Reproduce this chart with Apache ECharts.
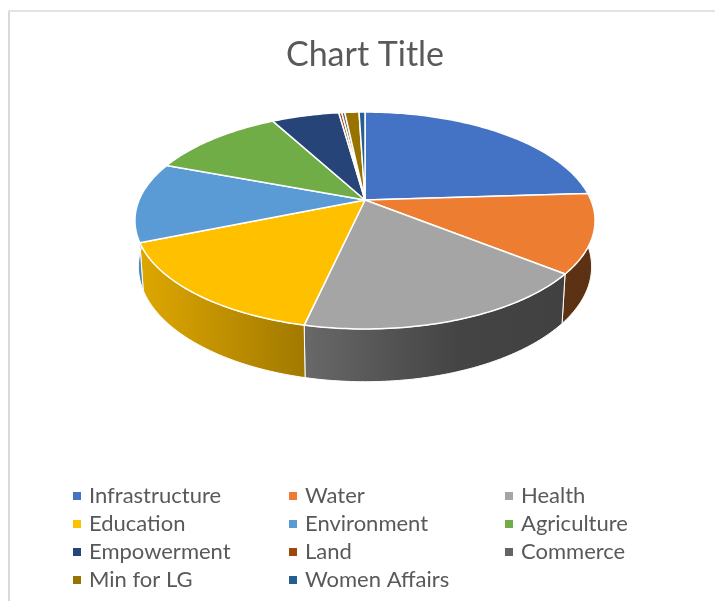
<!DOCTYPE html>
<html>
<head>
<meta charset="utf-8">
<title>Chart Title</title>
<style>
  html, body { margin: 0; padding: 0; background: #fff; overflow: hidden; }
  #main { width: 715px; height: 601px; }
</style>
<script src="https://cdn.jsdelivr.net/npm/echarts@6/dist/echarts.min.js"></script>
</head>
<body>
<div id="main"></div>
<script>
var categories = ['Infrastructure', 'Water', 'Health', 'Education', 'Environment', 'Agriculture',
  'Empowerment', 'Land', 'Commerce', 'Min for LG', 'Women Affairs'];
var values = [24, 11.75, 17.8, 15.3, 11.9, 11.4, 5.7, 0.25, 0.25, 1.2, 0.5];
var colors = ['#4472C4', '#ED7D31', '#A5A5A5', '#FFC000', '#5B9BD5', '#70AD47',
  '#264478', '#9E480E', '#636363', '#997300', '#255E91'];
var legendColumns = [
  ['Infrastructure', 'Education', 'Empowerment', 'Min for LG'],
  ['Water', 'Environment', 'Land', 'Women Affairs'],
  ['Health', 'Agriculture', 'Commerce']
];

// fake 3D: the pie circle is pushed through a perspective map
var apex = { x: 365, y: 200 };
var persp = 0.189, radX = 225.9, radY = 104.6;
var rimDepth = 45, lowScaleX = 0.985, lowScaleY = 1.06;

var total = values.reduce(function (a, b) { return a + b; }, 0);

function rimPoint(deg, lower) {
  var t = deg * Math.PI / 180;
  var x = Math.sin(t), y = -Math.cos(t);
  var w = 1 - persp * y;
  var dx = radX * x / w, dy = radY * y / w;
  if (lower) return [apex.x + lowScaleX * dx, apex.y + rimDepth + lowScaleY * dy];
  return [apex.x + dx, apex.y + dy];
}

function arc(from, to, lower) {
  var pts = [];
  var n = Math.max(1, Math.ceil(Math.abs(to - from)));
  for (var i = 0; i <= n; i++) pts.push(rimPoint(from + (to - from) * i / n, lower));
  return pts;
}

function shade(hex, f) {
  var c = echarts.color.parse(hex);
  return 'rgb(' + Math.round(c[0] * f) + ',' + Math.round(c[1] * f) + ',' + Math.round(c[2] * f) + ')';
}

// side wall darkens from left to right across the whole pie
function sideFill(hex) {
  return new echarts.graphic.LinearGradient(140, 0, 600, 0, [
    { offset: 0, color: shade(hex, 0.87) },
    { offset: 0.36, color: shade(hex, 0.63) },
    { offset: 0.565, color: shade(hex, 0.49) },
    { offset: 0.695, color: shade(hex, 0.41) },
    { offset: 1, color: shade(hex, 0.39) }
  ], true);
}

function sliceRenderer(index) {
  return function (params, api) {
    var before = 0;
    for (var i = 0; i < index; i++) before += values[i];
    var start = before / total * 360;
    var end = (before + api.value(0)) / total * 360;
    var color = api.visual('color');
    var children = [];

    // only the front of the rim can be seen
    var a = Math.max(start, 70), b = Math.min(end, 290);
    if (b > a) {
      children.push({
        type: 'polygon',
        z2: 1,
        shape: { points: arc(a, b, false).concat(arc(b, a, true)) },
        style: { fill: sideFill(color), stroke: '#fff', lineWidth: 1, lineJoin: 'round' }
      });
    }
    children.push({
      type: 'polygon',
      z2: 5,
      shape: { points: [[apex.x, apex.y]].concat(arc(start, end, false)) },
      style: { fill: color, stroke: '#fff', lineWidth: 1.5, lineJoin: 'round' }
    });
    return { type: 'group', children: children };
  };
}

var seriesList = categories.map(function (name, i) {
  return {
    type: 'custom',
    name: name,
    coordinateSystem: 'none',
    silent: true,
    itemStyle: { color: colors[i] },
    renderItem: sliceRenderer(i),
    data: [[values[i]]]
  };
});

var legendLeft = [73, 289, 505];
var legends = legendColumns.map(function (col, i) {
  return {
    data: col,
    orient: 'vertical',
    left: legendLeft[i],
    top: 482,
    padding: 0,
    itemGap: 0,
    itemWidth: 8,
    itemHeight: 8,
    icon: 'rect',
    selectedMode: false,
    textStyle: { fontFamily: 'Lato', fontSize: 22, color: '#595959', lineHeight: 28, height: 28, padding: [0, 0, 0, 3] }
  };
});

var myChart = echarts.init(document.getElementById('main'));
myChart.setOption({
  animation: false,
  backgroundColor: '#fff',
  title: {
    text: 'Chart Title',
    left: 365,
    top: 38,
    padding: 0,
    textAlign: 'center',
    textStyle: { fontFamily: 'Lato', fontSize: 34, fontWeight: 'normal', color: '#595959' }
  },
  legend: legends,
  graphic: [
    { type: 'rect', shape: { x: 8, y: 10, width: 2, height: 600 }, style: { fill: '#d9d9d9' } },
    { type: 'rect', shape: { x: 8, y: 10, width: 710, height: 2 }, style: { fill: '#e3e3e3' } }
  ],
  series: seriesList
});
</script>
</body>
</html>
